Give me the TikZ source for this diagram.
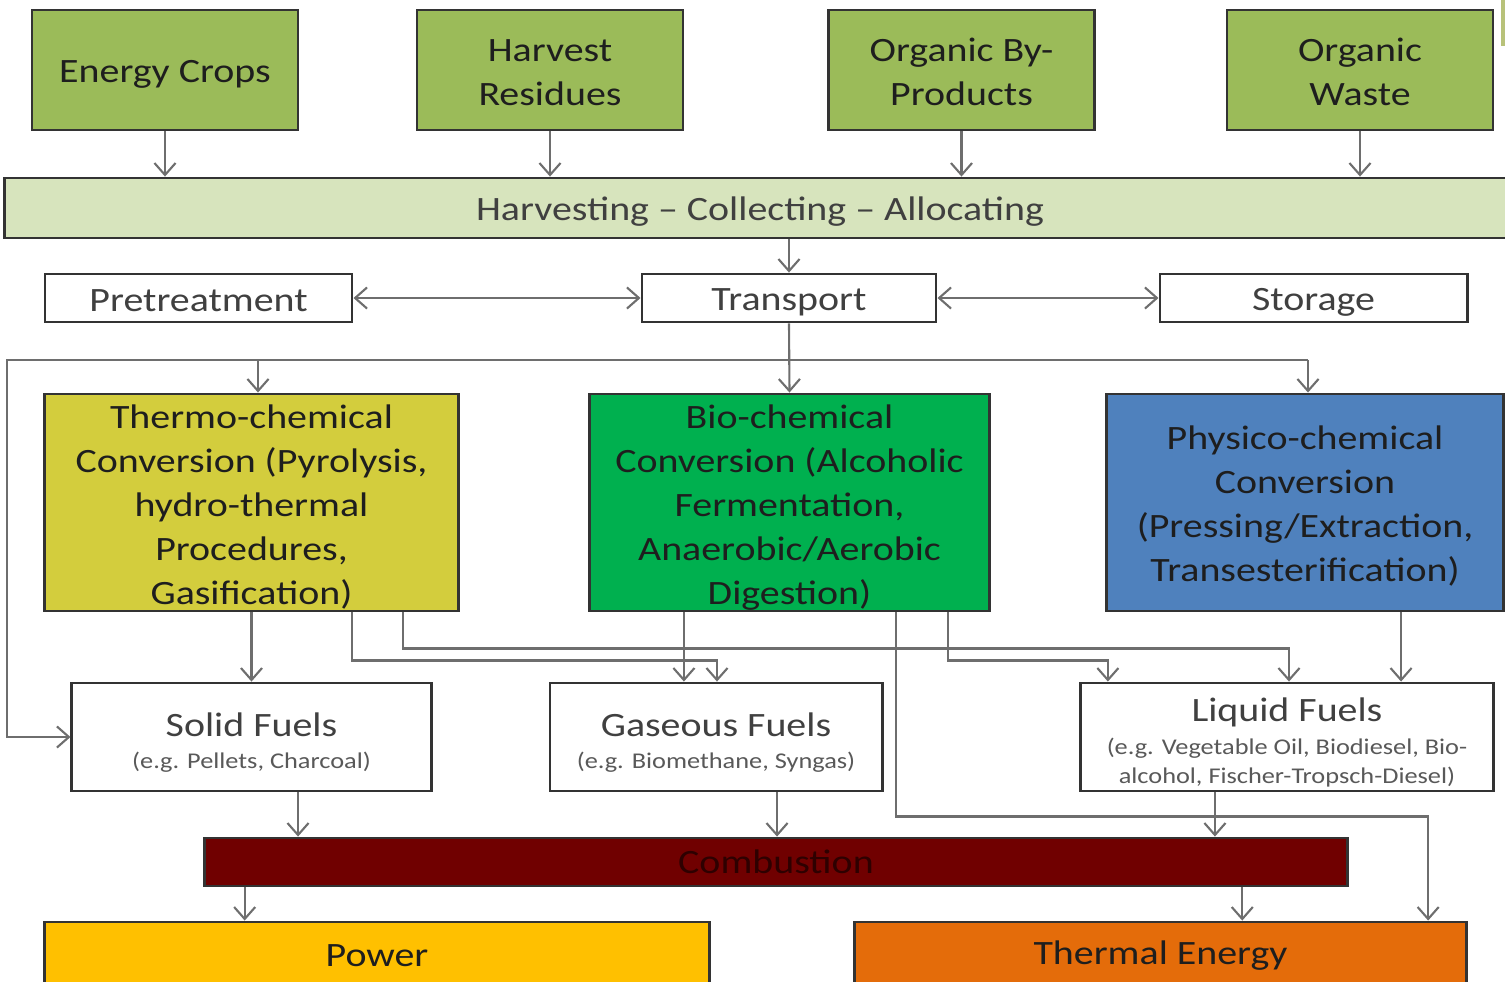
\documentclass[tikz,border=0pt]{standalone}
\usepackage{fontspec}
\setmainfont{Carlito}[FakeStretch=1.17]
\usetikzlibrary{arrows.meta,calc}

\definecolor{srcgreen}{HTML}{9BBB59}
\definecolor{hcafill}{HTML}{D7E4BD}
\definecolor{thermofill}{HTML}{D3CD3D}
\definecolor{biofill}{HTML}{00B04F}
\definecolor{physfill}{HTML}{4F81BD}
\definecolor{combfill}{HTML}{700000}
\definecolor{combtext}{HTML}{2E0000}
\definecolor{powfill}{HTML}{FFC000}
\definecolor{thermfill}{HTML}{E46C0A}
\definecolor{boxline}{HTML}{333333}
\definecolor{connline}{HTML}{6E6E6E}
\definecolor{txtdark}{HTML}{1E1E1E}
\definecolor{txtgray}{HTML}{404040}
\definecolor{subgray}{HTML}{595959}
\definecolor{edgeolive}{HTML}{B8C27A}

\newcommand\mainsz{\fontsize{9.7}{12.5}\selectfont}
\newcommand\subsz{\fontsize{6.4}{8}\selectfont}
% invisible strut that pushes the first text line downwards
\newcommand\topstrut[1]{\rule{0pt}{#1}}

\begin{document}
\begin{tikzpicture}[x=0.01cm,y=-0.01cm,
  box/.style={draw=boxline,line width=0.8pt,rectangle,inner sep=0pt,
    align=center,font=\mainsz,text=txtdark},
  lift/.style={execute at begin node={\rule{0pt}{#1}}},
  srcbox/.style={box,fill=srcgreen,minimum width=2.66cm,minimum height=1.2cm,text=txtdark},
  stagebox/.style={box,fill=white,minimum width=3.07cm,minimum height=0.48cm,text=txtgray},
  convbox/.style={box,minimum height=2.17cm},
  fuelbox/.style={box,fill=white,minimum height=1.08cm,text=txtgray},
  conn/.style={draw=connline,line width=0.6pt},
  arr/.style={conn,-{Straight Barb[length=3.4pt,width=6pt]}},
  darr/.style={conn,{Straight Barb[length=3.4pt,width=6pt]}-{Straight Barb[length=3.4pt,width=6pt]}}
]
\useasboundingbox (0,0) rectangle (1505,981);
\clip (0,0) rectangle (1505,981);

% thin bar at the top right edge
\fill[edgeolive] (1501,0) rectangle (1505,46);

% biomass sources
\node[srcbox,lift=9pt] (ec) at (165,70) {Energy Crops};
\node[srcbox] (hr) at (550,70) {\topstrut{7.9pt}Harvest\\Residues};
\node[srcbox] (obp) at (961.5,70) {\topstrut{7.9pt}Organic By-\\Products};
\node[srcbox] (ow) at (1360,70) {\topstrut{7.9pt}Organic\\Waste};

% logistics
\node[box,lift=9pt,fill=hcafill,minimum width=15.1cm,minimum height=0.6cm,text=txtgray] (hca) at (760,208)
  {Harvesting -- Collecting -- Allocating};
\node[stagebox,lift=7.6pt] (pre) at (198.5,298) {Pretreatment};
\node[stagebox,lift=8.4pt,minimum width=2.94cm] (tr) at (789,298) {Transport};
\node[stagebox,lift=8.8pt] (sto) at (1313.5,298) {Storage};

% conversion routes
\node[convbox,fill=thermofill,minimum width=4.13cm] (th) at (251.5,502.5)
  {\topstrut{9.3pt}Thermo-chemical\\Conversion (Pyrolysis,\\hydro-thermal\\Procedures,\\Gasification)};
\node[convbox,fill=biofill,minimum width=3.99cm] (bio) at (789.5,502.5)
  {\topstrut{9.6pt}Bio-chemical\\Conversion (Alcoholic\\Fermentation,\\Anaerobic/Aerobic\\Digestion)};
\node[convbox,fill=physfill,minimum width=3.96cm] (ph) at (1305,502.5)
  {\topstrut{8.6pt}Physico-chemical\\Conversion\\(Pressing/Extraction,\\Transesterification)};

% fuels
\node[fuelbox,minimum width=3.59cm] (sol) at (251.5,737)
  {\topstrut{10pt}Solid Fuels\\[-3.3pt]{\subsz\color{subgray}(e.g. Pellets, Charcoal)}};
\node[fuelbox,minimum width=3.32cm] (gas) at (716,737)
  {\topstrut{10pt}Gaseous Fuels\\[-3.3pt]{\subsz\color{subgray}(e.g. Biomethane, Syngas)}};
\node[fuelbox,minimum width=4.12cm] (liq) at (1287,737)
  {\topstrut{9.8pt}Liquid Fuels\\[-3.1pt]{\subsz\color{subgray}(e.g. Vegetable Oil, Biodiesel, Bio-}\\[-4.4pt]
   {\subsz\color{subgray}alcohol, Fischer-Tropsch-Diesel)}};

% use
\node[box,fill=combfill,minimum width=11.42cm,minimum height=0.48cm,text=combtext] (comb) at (776,862) {Combustion};
\node[box,fill=powfill,minimum width=6.64cm,minimum height=1cm,text=txtdark] (pow) at (377,972) {};
\node[box,fill=thermfill,minimum width=6.11cm,minimum height=1cm,text=txtdark] (te) at (1160.5,972) {};
\node[font=\mainsz,text=txtdark] (powlbl) at (377,956) {Power};
\node[font=\mainsz,text=txtdark] (telbl) at (1160.5,956) {Thermal Energy};

% sources into logistics
\draw[arr] (ec.south) -- (ec.south |- hca.north);
\draw[arr] (hr.south) -- (hr.south |- hca.north);
\draw[arr] (obp.south) -- (obp.south |- hca.north);
\draw[arr] (ow.south) -- (ow.south |- hca.north);
\draw[arr] (tr.north |- hca.south) -- (tr.north);
\draw[darr] (pre.east) -- (tr.west);
\draw[darr] (tr.east) -- (sto.west);

% distribution bus below transport
\coordinate (bus) at ($(tr.south)+(0,37)$);
\coordinate (thin) at ([xshift=0.065cm]th.north);
\coordinate (phin) at ([xshift=0.03cm]ph.north);
\coordinate (lx) at (7,0);
\draw[arr] (tr.south) -- (bio.north);
\draw[conn] (thin |- bus) -- (phin |- bus);
\draw[arr] (thin |- bus) -- (thin);
\draw[arr] (phin |- bus) -- (phin);
\draw[arr] (thin |- bus) -- (lx |- bus) -- (lx |- sol.west) -- (sol.west);

% conversion to fuels
\coordinate (t2) at ([xshift=1.005cm]th.south);
\coordinate (t3) at ([xshift=1.515cm]th.south);
\coordinate (g2) at ([xshift=0.01cm]gas.north);
\coordinate (l3) at ([xshift=0.02cm]liq.north);
\coordinate (b1) at ([xshift=-1.055cm]bio.south);
\coordinate (b2) at ([xshift=1.585cm]bio.south);
\coordinate (b3) at ([xshift=1.065cm]bio.south);
\coordinate (l2) at ([xshift=-1.79cm]liq.north);
\coordinate (p1) at ([xshift=0.96cm]ph.south);
\coordinate (te4) at ([xshift=2.675cm]te.north);
\draw[arr] (th.south) -- (th.south |- sol.north);
\draw[arr] (t2) -- ++(0,48) -| (g2);
\draw[arr] (t3) -- ++(0,36) -| (l3);
\draw[arr] (b1) -- (b1 |- gas.north);
\draw[arr] (b2) -- ++(0,48) -| (l2);
\draw[arr] (b3) -- ++(0,204) -| (te4);
\draw[arr] (p1) -- (p1 |- liq.north);

% fuels to combustion and end use
\coordinate (s1) at ([xshift=0.465cm]sol.south);
\coordinate (g1) at ([xshift=0.61cm]gas.south);
\coordinate (q1) at ([xshift=-0.72cm]liq.south);
\coordinate (c1) at ([xshift=-5.31cm]comb.south);
\coordinate (c2) at ([xshift=4.66cm]comb.south);
\draw[arr] (s1) -- (s1 |- comb.north);
\draw[arr] (g1) -- (g1 |- comb.north);
\draw[arr] (q1) -- (q1 |- comb.north);
\draw[arr] (c1) -- (c1 |- pow.north);
\draw[arr] (c2) -- (c2 |- te.north);
\end{tikzpicture}
\end{document}
